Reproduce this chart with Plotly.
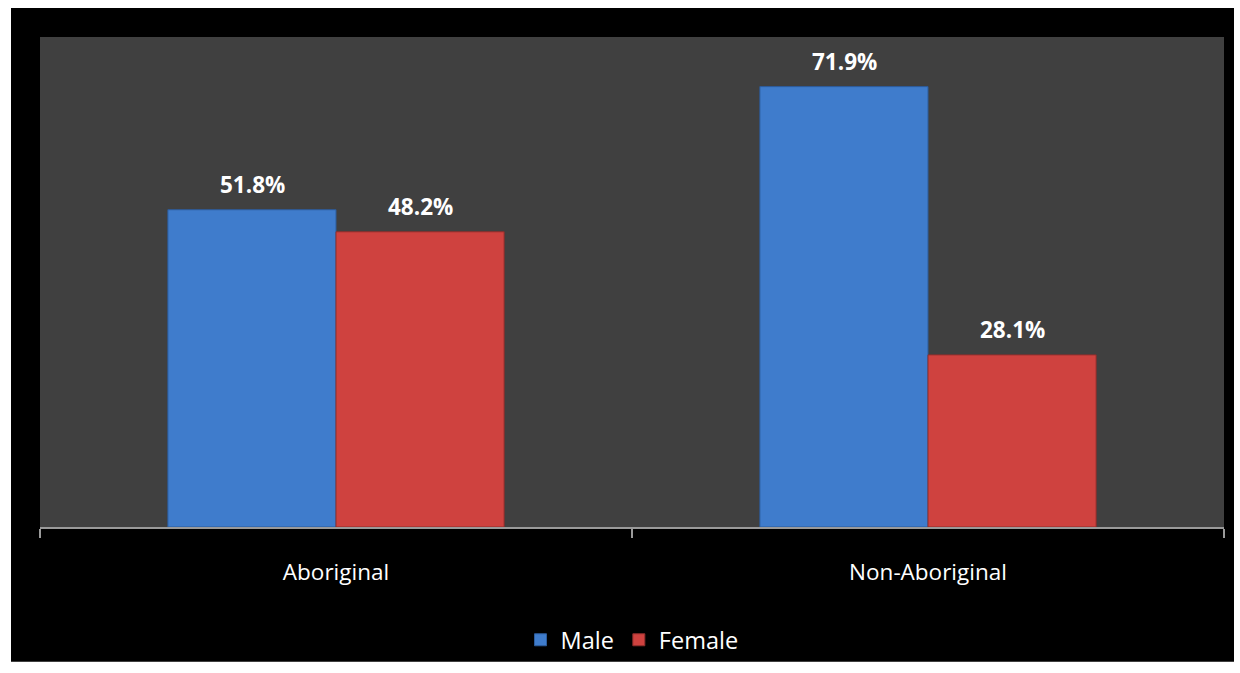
import plotly.graph_objects as go

categories = ["Aboriginal", "Non-Aboriginal"]
series_names = ["Male", "Female"]
male_values = [51.8, 71.9]
female_values = [48.2, 28.1]

colors = {"Male": "#3F7CCC", "Female": "#CF423F"}
line_colors = {"Male": "#2C5C9C", "Female": "#8F2E2C"}
values = {"Male": male_values, "Female": female_values}

FONT = "Open Sans"

fig = go.Figure()
for name in series_names:
    fig.add_trace(go.Bar(
        x=categories, y=values[name], name=name,
        marker=dict(color=colors[name], line=dict(color=line_colors[name], width=1)),
    ))

# data labels above each bar
bar_px = 168
for i, name in enumerate(series_names):
    shift = (-bar_px / 2) if i == 0 else (bar_px / 2)
    for c, v in zip(categories, values[name]):
        fig.add_annotation(
            x=c, y=v, text=f"<b>{v:.1f}%</b>", showarrow=False,
            xshift=shift, yshift=25, yanchor="middle",
            font=dict(family=FONT, size=22.5, color="white"),
        )

W, H = 1240, 673
L, R, T, B = 40, 16, 37, 145
pw, ph = W - L - R, H - T - B
def px_x(p):
    return (p - L) / pw
def px_y(p):
    return (H - B - p) / ph

fig.add_shape(type="rect", xref="paper", yref="paper", layer="below",
              x0=px_x(11), x1=px_x(1234), y0=px_y(663), y1=px_y(8),
              fillcolor="black", line=dict(width=0))
fig.add_shape(type="rect", xref="paper", yref="paper", layer="below",
              x0=0, x1=1, y0=0, y1=1,
              fillcolor="#404040", line=dict(width=0))

fig.update_layout(
    width=W, height=H,
    margin=dict(l=L, r=R, t=T, b=B, pad=0),
    paper_bgcolor="white", plot_bgcolor="#404040",
    barmode="group", bargap=0.432, bargroupgap=0,
    font=dict(family=FONT, color="white"),
    showlegend=True,
    legend=dict(orientation="h", x=0.5, xanchor="center", y=px_y(640), yanchor="middle",
                font=dict(family=FONT, size=23.5, color="white"),
                bgcolor="rgba(0,0,0,0)", itemwidth=30, traceorder="normal"),
)
fig.update_xaxes(
    showline=True, linecolor="#9A9A9A", linewidth=2,
    ticks="outside", tickson="boundaries", ticklen=9, tickcolor="#9A9A9A", tickwidth=2,
    tickfont=dict(family=FONT, size=22.5, color="white"),
    ticklabelstandoff=24, showgrid=False,
)
fig.update_yaxes(range=[0, 80], visible=False, showgrid=False)

fig.write_html("out.html")
